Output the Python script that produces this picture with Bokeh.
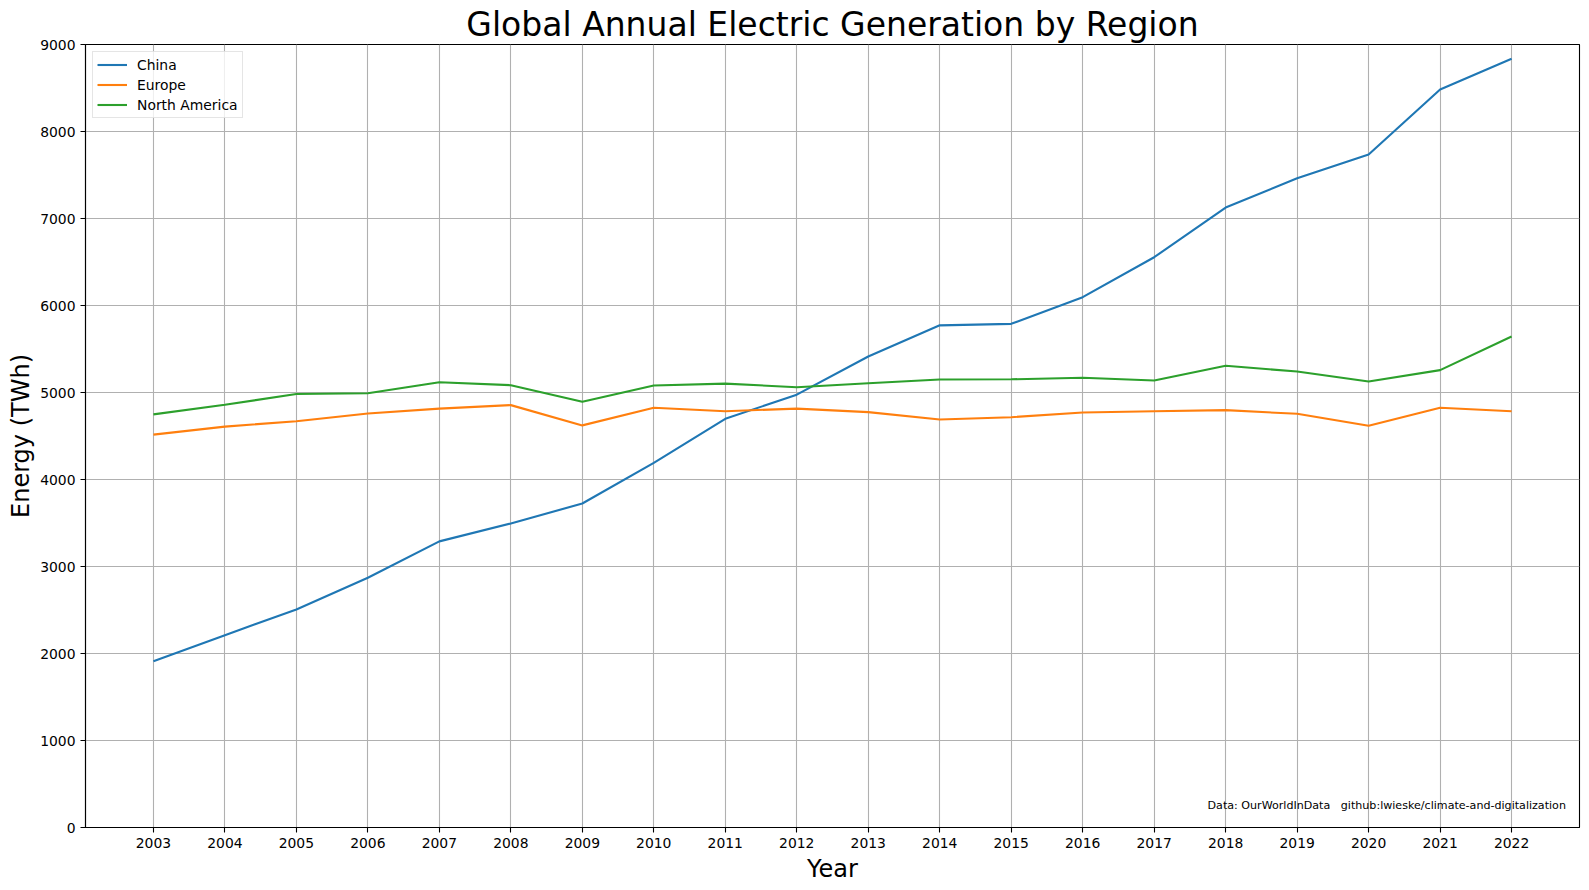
from bokeh.plotting import figure
from bokeh.models import Label, FixedTicker, Range1d
from bokeh.embed import file_html
from bokeh.resources import INLINE

years = list(range(2003, 2023))
china = [1912, 2211, 2506, 2871, 3289, 3495, 3724, 4191, 4697, 4975,
         5414, 5772, 5789, 6096, 6555, 7126, 7463, 7736, 8483, 8836]
europe = [4516, 4608, 4670, 4758, 4815, 4855, 4622, 4824, 4785, 4815,
          4774, 4690, 4716, 4770, 4785, 4797, 4755, 4617, 4824, 4785]
north_america = [4749, 4859, 4983, 4991, 5118, 5084, 4894, 5080, 5102, 5061,
                 5107, 5149, 5152, 5169, 5138, 5307, 5241, 5126, 5257, 5644]
y_ticks = [0, 1000, 2000, 3000, 4000, 5000, 6000, 7000, 8000, 9000]

FONT = "DejaVu Sans"

p = figure(frame_width=1494, frame_height=783,
           x_range=Range1d(2002.05, 2022.95), y_range=Range1d(0, 9000),
           output_backend="svg", toolbar_location=None,
           title="Global Annual Electric Generation by Region",
           min_border_left=85, min_border_top=44, min_border_right=2, min_border_bottom=52)

p.title.text_font = FONT
p.title.text_font_size = "33px"
p.title.text_font_style = "normal"
p.title.align = "center"
p.title.text_color = "black"
p.title.standoff = 1
p.title.offset = 0

p.outline_line_color = "black"
p.outline_line_width = 1.1
p.outline_line_alpha = 1

p.line(years, china, color="#1f77b4", line_width=2.1, legend_label="China")
p.line(years, europe, color="#ff7f0e", line_width=2.1, legend_label="Europe")
p.line(years, north_america, color="#2ca02c", line_width=2.1, legend_label="North America")

p.xaxis.ticker = FixedTicker(ticks=years)
p.yaxis.ticker = FixedTicker(ticks=y_ticks)
p.xaxis.axis_label = "Year"
p.yaxis.axis_label = "Energy (TWh)"
for ax in (p.xaxis[0], p.yaxis[0]):
    ax.axis_label_text_font = FONT
    ax.axis_label_text_font_size = "24px"
    ax.axis_label_text_font_style = "normal"
    ax.axis_label_text_color = "black"
    ax.major_label_text_font = FONT
    ax.major_label_text_font_size = "13.9px"
    ax.major_label_text_color = "black"
    ax.axis_line_color = "black"
    ax.axis_line_width = 1.1
    ax.major_tick_line_color = "black"
    ax.major_tick_line_width = 1.1
    ax.major_tick_out = 5
    ax.major_tick_in = 0
    ax.minor_tick_line_color = None
    ax.major_label_standoff = 5
p.xaxis.axis_label_standoff = 4
p.yaxis.axis_label_standoff = 2

p.xgrid.grid_line_color = "#b0b0b0"
p.ygrid.grid_line_color = "#b0b0b0"
p.xgrid.grid_line_width = 1.1
p.ygrid.grid_line_width = 1.1

lg = p.legend[0]
lg.location = "top_left"
lg.margin = 7
lg.padding = 4
lg.spacing = 3
lg.glyph_width = 30
lg.glyph_height = 17
lg.label_height = 17
lg.label_standoff = 10
lg.label_text_font = FONT
lg.label_text_font_size = "13.9px"
lg.label_text_color = "black"
lg.border_line_color = "#cccccc"
lg.border_line_width = 1
lg.background_fill_alpha = 0.8

src = Label(x=2022.76, y=253,
            text="Data: OurWorldInData\u00a0\u00a0\u00a0github:lwieske/climate-and-digitalization",
            text_align="right", text_baseline="middle", text_font=FONT,
            text_font_size="11.1px", text_color="black")
p.add_layout(src)

open("out.html", "w").write(file_html(p, INLINE))
